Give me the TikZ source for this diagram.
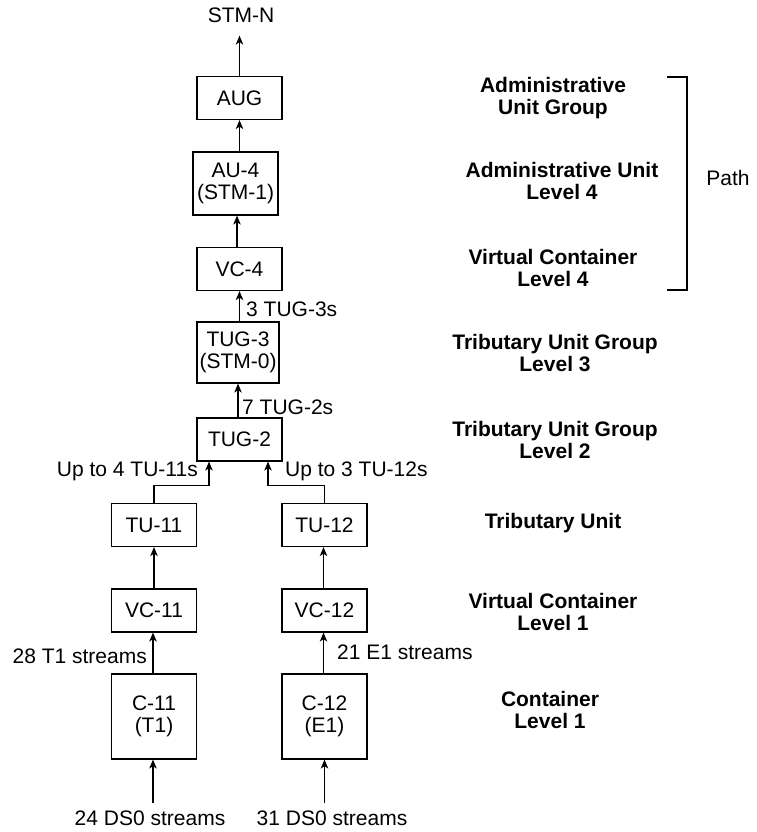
\documentclass[tikz,border=0pt]{standalone}
\usepackage{fontspec}
\setmainfont{Liberation Sans}
\usetikzlibrary{arrows.meta}
\begin{document}
\begin{tikzpicture}[x=1pt,y=-1pt,
  every node/.style={font=\fontsize{21}{21.5}\selectfont},
  box/.style={draw, line width=1.2pt, minimum width=85pt, minimum height=43pt, inner sep=0pt, align=center},
  lbl/.style={inner sep=1pt},
  layer/.style={inner sep=1pt, align=center, font=\fontsize{21}{21.5}\selectfont\bfseries},
  arr/.style={line width=1.2pt, -{Stealth[length=9pt,width=7.5pt,inset=2.5pt]}},
  ln/.style={line width=1.2pt}]
\useasboundingbox (0,0) rectangle (757,832);
% boxes
\node[box] (AUG) at (239.5,98) {AUG};
\node[box, minimum height=63pt] (AU4) at (235.5,183.5) {AU-4\\(STM-1)};
\node[box] (VC4) at (239.5,269) {VC-4};
\node[box, minimum width=82pt, minimum height=61pt] (TUG3) at (238,352.5) {TUG-3\\(STM-0)};
\node[box] (TUG2) at (239.5,439.5) {TUG-2};
\node[box] (TU11) at (154,525) {TU-11};
\node[box] (TU12) at (324.5,525) {TU-12};
\node[box] (VC11) at (154,610.5) {VC-11};
\node[box] (VC12) at (324.5,610.5) {VC-12};
\node[box, minimum height=85pt] (C11) at (154,716.5) {C-11\\(T1)};
\node[box, minimum height=85pt] (C12) at (324.5,716.5) {C-12\\(E1)};
% plain texts
\node[lbl] (STMN) at (241,15) {STM-N};
\node[lbl, anchor=west] (L3) at (245,309) {3 TUG-3s};
\node[lbl, anchor=west] (L7) at (241,407) {7 TUG-2s};
\node[lbl, anchor=east] (L4) at (199,471) {Up to 4 TU-11s};
\node[lbl, anchor=west] (L3b) at (284,471) {Up to 3 TU-12s};
\node[lbl, anchor=east] (L28) at (148,656) {28 T1 streams};
\node[lbl, anchor=west] (L21) at (336,652) {21 E1 streams};
\node[lbl] (DS24) at (150,818) {24 DS0 streams};
\node[lbl] (DS31) at (332,818) {31 DS0 streams};
% connectors
\draw[arr, shorten >=12pt] (AUG.north) -- (AUG.north |- STMN.south);
\draw[arr] (AUG.south |- AU4.north) -- (AUG.south);
\draw[arr] ([xshift=-2.5pt]VC4.north) -- ([xshift=-2.5pt]VC4.north |- AU4.south);
\draw[arr] (VC4.south |- TUG3.north) -- (VC4.south);
\draw[arr] (TUG3.south |- TUG2.north) -- (TUG3.south);
\draw[arr] (TU11.north) -- ++(0,-17.5) -| ([xshift=-30.5pt]TUG2.south);
\draw[arr] (TU12.north) -- ++(0,-17.5) -| ([xshift=28.5pt]TUG2.south);
\draw[arr] (TU11.south |- VC11.north) -- (TU11.south);
\draw[arr] ([xshift=-1pt]TU12.south |- VC12.north) -- ([xshift=-1pt]TU12.south);
\draw[arr] ([xshift=-1pt]VC11.south |- C11.north) -- ([xshift=-1pt]VC11.south);
\draw[arr] ([xshift=-1pt]VC12.south |- C12.north) -- ([xshift=-1pt]VC12.south);
\draw[arr, shorten <=6pt] ([xshift=-1pt]C11.south |- DS24.north) -- ([xshift=-1pt]C11.south);
\draw[arr, shorten <=6pt] (C12.south |- DS31.north) -- (C12.south);
% layer names
\node[layer] (nAUG) at (553,98) {Administrative\\Unit Group};
\node[layer] (nAU4) at (562,181) {Administrative Unit\\Level 4};
\node[layer] (nVC4) at (553,268) {Virtual Container\\Level 4};
\node[layer] (nTUG3) at (555,353) {Tributary Unit Group\\Level 3};
\node[layer] (nTUG2) at (555,440) {Tributary Unit Group\\Level 2};
\node[layer] (nTU) at (553,523) {Tributary Unit};
\node[layer] (nVC1) at (553,612) {Virtual Container\\Level 1};
\node[layer] (nC1) at (550,710) {Container\\Level 1};
% bracket
\draw[ln] (667,77) -- (687,77) -- (687,290) -- (667,290);
\node[lbl] (path) at (728,178) {Path};
\end{tikzpicture}
\end{document}
